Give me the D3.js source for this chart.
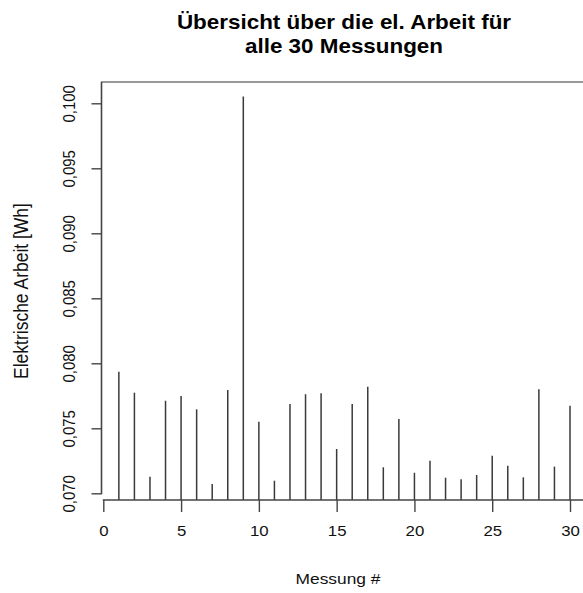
<!DOCTYPE html>
<html>
<head>
<meta charset="utf-8">
<script src="https://cdn.jsdelivr.net/npm/d3@7"></script>
<style>
  body { margin: 0; background: #fff; }
  text { font-family: "Liberation Sans", Arial, sans-serif; }
</style>
</head>
<body>
<div id="chart"></div>
<script>
// Elektrische Arbeit je Messung
const messungen = d3.range(1, 31);
const arbeit = [
    0.07935, 0.07774, 0.07128, 0.07712, 0.07748, 0.07646, 0.07072, 0.07795, 0.10052, 0.07551,
    0.07097, 0.07687, 0.07762, 0.07769, 0.07341, 0.07687, 0.07820, 0.07200, 0.07572, 0.07158,
    0.07251, 0.07120, 0.07108, 0.07141, 0.07289, 0.07212, 0.07123, 0.07800, 0.07205, 0.07674
];
const xTicks = [0, 5, 10, 15, 20, 25, 30];
const yTicks = [0.070, 0.075, 0.080, 0.085, 0.090, 0.095, 0.100];

const width = 583;
const height = 593;
const stretch = 1.12;  // text in the original is a bit wider than tall

const svg = d3.select("#chart")
    .append("svg")
    .attr("width", width)
    .attr("height", height);

const x = d3.scaleLinear()
    .domain([0, 30])
    .range([103.3, 570]);

const y = d3.scaleLinear()
    .domain([0.070, 0.100])
    .range([493.3, 103.3]);

const plotLeft = 101.5;
const plotTop = 82;
const plotBottom = 500;

// Title
const titleLines = ["Übersicht über die el. Arbeit für", "alle 30 Messungen"];
svg.selectAll("text.title")
    .data(titleLines)
    .enter()
    .append("text")
    .attr("class", "title")
    .attr("transform", (d, i) => `translate(344,${29 + i * 24}) scale(1.15,1)`)
    .attr("text-anchor", "middle")
    .attr("font-size", "19.5px")
    .attr("font-weight", "bold")
    .attr("fill", "#000")
    .text(d => d);

// Frame: top and left edges
svg.append("line")
    .attr("x1", plotLeft - 0.5).attr("x2", width)
    .attr("y1", plotTop).attr("y2", plotTop)
    .attr("stroke", "#999")
    .attr("stroke-width", 2);

svg.append("line")
    .attr("x1", plotLeft).attr("x2", plotLeft)
    .attr("y1", plotTop).attr("y2", y(0.070) + 1)
    .attr("stroke", "#444")
    .attr("stroke-width", 1.6);

// Spikes (type "h")
svg.selectAll("line.spike")
    .data(messungen)
    .enter()
    .append("line")
    .attr("class", "spike")
    .attr("x1", d => x(d))
    .attr("x2", d => x(d))
    .attr("y1", plotBottom)
    .attr("y2", (d, i) => y(arbeit[i]))
    .attr("stroke", "#3a3a3a")
    .attr("stroke-width", 1.5);

const fmt = v => d3.format(".3f")(v).replace(".", ",");

// Y axis
const yAxis = svg.append("g")
    .attr("transform", `translate(${plotLeft},0)`)
    .call(d3.axisLeft(y).tickValues(yTicks).tickFormat(fmt).tickSize(10).tickSizeOuter(0));

yAxis.select(".domain").remove();
yAxis.selectAll(".tick line").attr("stroke", "#444").attr("stroke-width", 1.4);
yAxis.selectAll(".tick text")
    .attr("x", null)
    .attr("dy", "0.35em")
    .attr("text-anchor", "middle")
    .attr("transform", `translate(-32,0) scale(${stretch},1) rotate(-90)`)
    .attr("font-size", "15px")
    .attr("font-family", "Liberation Sans, Arial, sans-serif")
    .attr("fill", "#111");

// X axis
const xAxis = svg.append("g")
    .attr("transform", `translate(0,${plotBottom})`)
    .call(d3.axisBottom(x).tickValues(xTicks).tickFormat(d3.format("d")).tickSize(12).tickPadding(13).tickSizeOuter(0));

xAxis.select(".domain").remove();
xAxis.append("line")
    .attr("x1", x(0) - 0.5).attr("x2", width)
    .attr("y1", 0).attr("y2", 0)
    .attr("stroke", "#444")
    .attr("stroke-width", 1.6);
xAxis.selectAll(".tick line").attr("stroke", "#444").attr("stroke-width", 1.4);
xAxis.selectAll(".tick text")
    .attr("transform", `scale(${stretch},1)`)
    .attr("font-size", "15px")
    .attr("font-family", "Liberation Sans, Arial, sans-serif")
    .attr("fill", "#111");

// Axis titles
svg.append("text")
    .attr("transform", `translate(338,584) scale(${stretch},1)`)
    .attr("text-anchor", "middle")
    .attr("font-size", "15.5px")
    .attr("fill", "#111")
    .text("Messung #");

svg.append("text")
    .attr("transform", `translate(28,${(plotTop + plotBottom) / 2}) scale(${stretch},1) rotate(-90)`)
    .attr("text-anchor", "middle")
    .attr("font-size", "17.5px")
    .attr("fill", "#111")
    .text("Elektrische Arbeit [Wh]");
</script>
</body>
</html>
